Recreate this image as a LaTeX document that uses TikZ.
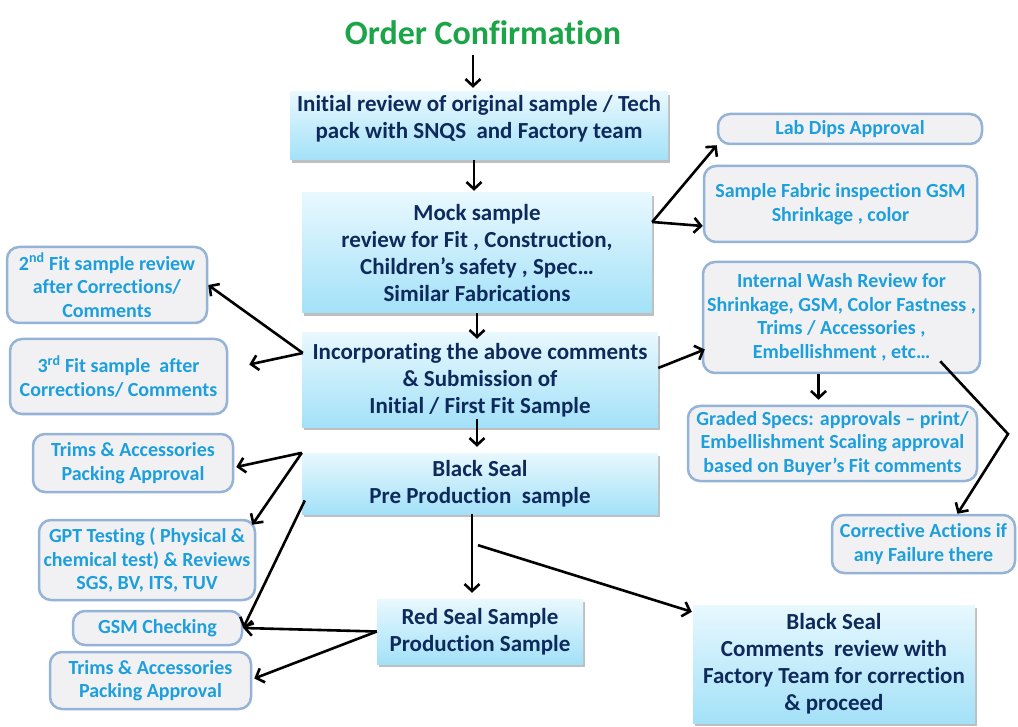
\documentclass[tikz,border=0pt]{standalone}
\usepackage{fontspec}
\setmainfont{Carlito}[Ligatures=NoCommon]
\usepackage{tikz}
\usetikzlibrary{calc,arrows.meta,shadows}
\definecolor{title_green}{HTML}{1BA548}
\definecolor{navy_text}{HTML}{0E2A5C}
\definecolor{sky_top}{HTML}{E8F8FE}
\definecolor{sky_bottom}{HTML}{A3E1F8}
\definecolor{grey_fill}{HTML}{F1F1F3}
\definecolor{grey_border}{HTML}{95B3D7}
\definecolor{cyan_text}{HTML}{1C9FDC}

\begin{document}
\begin{tikzpicture}[x=1pt, y=-1pt,
	stage/.style={rectangle, inner sep=0pt, top color=sky_top, bottom color=sky_bottom,
		drop shadow={shadow xshift=2pt, shadow yshift=-3pt, fill=black, opacity=0.25},
		text=navy_text, font=\bfseries\fontsize{23}{27}\selectfont, align=center},
	check/.style={rectangle, rounded corners=12pt, inner sep=0pt, fill=grey_fill,
		draw=grey_border, line width=2.5pt, text=cyan_text,
		font=\bfseries\fontsize{20}{23.5}\selectfont, align=center},
	flow/.style={line width=2.6pt, -{Straight Barb[length=7pt, width=15pt]}}]
	\useasboundingbox (0,0) rectangle (1018,727);
	% main column
	\node[text=title_green, font=\bfseries\fontsize{34}{40}\selectfont] (title) at (483,33) {Order Confirmation};
	\node[stage, minimum width=378pt, minimum height=68pt, text depth=19pt] (init) at (479,126) {Initial review of original sample / Tech\\pack with SNQS\ \ and Factory team};
	\node[stage, minimum width=350pt, minimum height=120pt] (mock) at (477,253) {Mock sample\\review for Fit , Construction,\\ Children’s safety , Spec…\\Similar Fabrications};
	\node[stage, minimum width=356pt, minimum height=94pt] (incorp) at (480,380) {Incorporating the above comments\\\& Submission of\\Initial / First Fit Sample};
	\node[stage, minimum width=356pt, minimum height=61pt] (prepro) at (480,483.5) {Black Seal\\Pre Production\ \ sample};
	\node[stage, minimum width=206pt, minimum height=65pt] (redseal) at (480,631.5) {Red Seal Sample\\Production Sample};
	\node[stage, minimum width=282pt, minimum height=118pt] (comments) at (834,664) {Black Seal\\Comments\ \ review with\\Factory Team for correction\\\& proceed};
	% right checks
	\node[check, minimum width=264pt, minimum height=30pt] (labdips) at (850,129) {Lab Dips Approval};
	\node[check, minimum width=273pt, minimum height=76pt] (fabric) at (840.5,204) {Sample Fabric inspection GSM\\Shrinkage , color};
	\node[check, minimum width=277pt, minimum height=111pt] (wash) at (841.5,317.5) {Internal Wash Review for\\Shrinkage, GSM, Color Fastness ,\\Trims / Accessories ,\\Embellishment , etc…};
	\node[check, minimum width=289pt, minimum height=75pt] (graded) at (832.5,443.5) {Graded Specs: approvals – print/\\Embellishment Scaling approval\\based on Buyer’s Fit comments};
	\node[check, minimum width=183pt, minimum height=58pt] (corrective) at (923.5,544) {Corrective Actions if\\any Failure there};
	% left checks
	\node[check, minimum width=200pt, minimum height=76pt] (fit2) at (107,285) {2\textsuperscript{nd} Fit sample review\\after Corrections/\\Comments};
	\node[check, minimum width=217pt, minimum height=75pt] (fit3) at (118.5,376.5) {3\textsuperscript{rd} Fit sample\ \ after\\Corrections/ Comments};
	\node[check, minimum width=200pt, minimum height=58pt] (trims1) at (133,463) {Trims \& Accessories\\Packing Approval};
	\node[check, minimum width=216pt, minimum height=80pt] (gpt) at (147,560) {GPT Testing ( Physical \&\\chemical test) \& Reviews\\SGS, BV, ITS, TUV};
	\node[check, minimum width=169pt, minimum height=34pt] (gsm) at (157.5,628) {GSM Checking};
	\node[check, minimum width=201pt, minimum height=57pt] (trims2) at (150.5,680.5) {Trims \& Accessories\\Packing Approval};
	% fork points
	\coordinate (mock_fork) at ($(mock.east)+(0,-31)$);
	\coordinate (incorp_fork) at ($(incorp.west)+(1,-27)$);
	\coordinate (prepro_fork) at (prepro.north west);
	\coordinate (prepro_low) at ($(prepro.west)+(3,17)$);
	\coordinate (prepro_tail) at ($(prepro.south)+(-2,31)$);
	\coordinate (red_fork) at (redseal.west);
	\coordinate (wash_tail) at ($(wash.south east)+(-41,-13)$);
	\coordinate (wash_bend) at (1008,434);
	% connectors
	\draw[flow] ($(title.south -| init.north)+(-6,6)$) -- ($(init.north)+(-6,-4)$);
	\draw[flow] ($(init.south)+(-5,0)$) -- ($(mock.north)+(-3,-2)$);
	\draw[flow] (mock.south) -- ($(incorp.north)+(-3,6)$);
	\draw[flow] ($(incorp.south)+(-3,-8)$) -- ($(prepro.north)+(-3,-6)$);
	\draw[flow] ($(prepro.south)+(-8,0)$) -- ($(redseal.north)+(-8,-6)$);
	\draw[flow] (prepro_tail) -- ($(comments.north west)+(-1,7)$);
	\draw[flow] (mock_fork) -- (labdips.south west);
	\draw[flow] (mock_fork) -- ($(fabric.west)+(0,22)$);
	\draw[flow] (incorp_fork) -- (fit2.east);
	\draw[flow] (incorp_fork) -- ($(fit3.east)+(21,-12)$);
	\draw[flow] ($(incorp.east)+(0,-12)$) -- ($(wash.west)+(3,32)$);
	\draw[flow] ($(wash.south)+(-23,0)$) -- ($(graded.north)+(-14,-5)$);
	\draw[flow] (wash_tail) -- (wash_bend) -- ($(corrective.north)+(34,0)$);
	\draw[flow] (prepro_fork) -- ($(trims1.east)+(2,4)$);
	\draw[flow] (prepro_fork) -- ($(gpt.north east)+(-4,6)$);
	\draw[flow] (prepro_low) -- (gsm.east);
	\draw[flow] (red_fork) -- (gsm.east);
	\draw[flow] (red_fork) -- ($(trims2.east)+(2,-2)$);
\end{tikzpicture}
\end{document}
